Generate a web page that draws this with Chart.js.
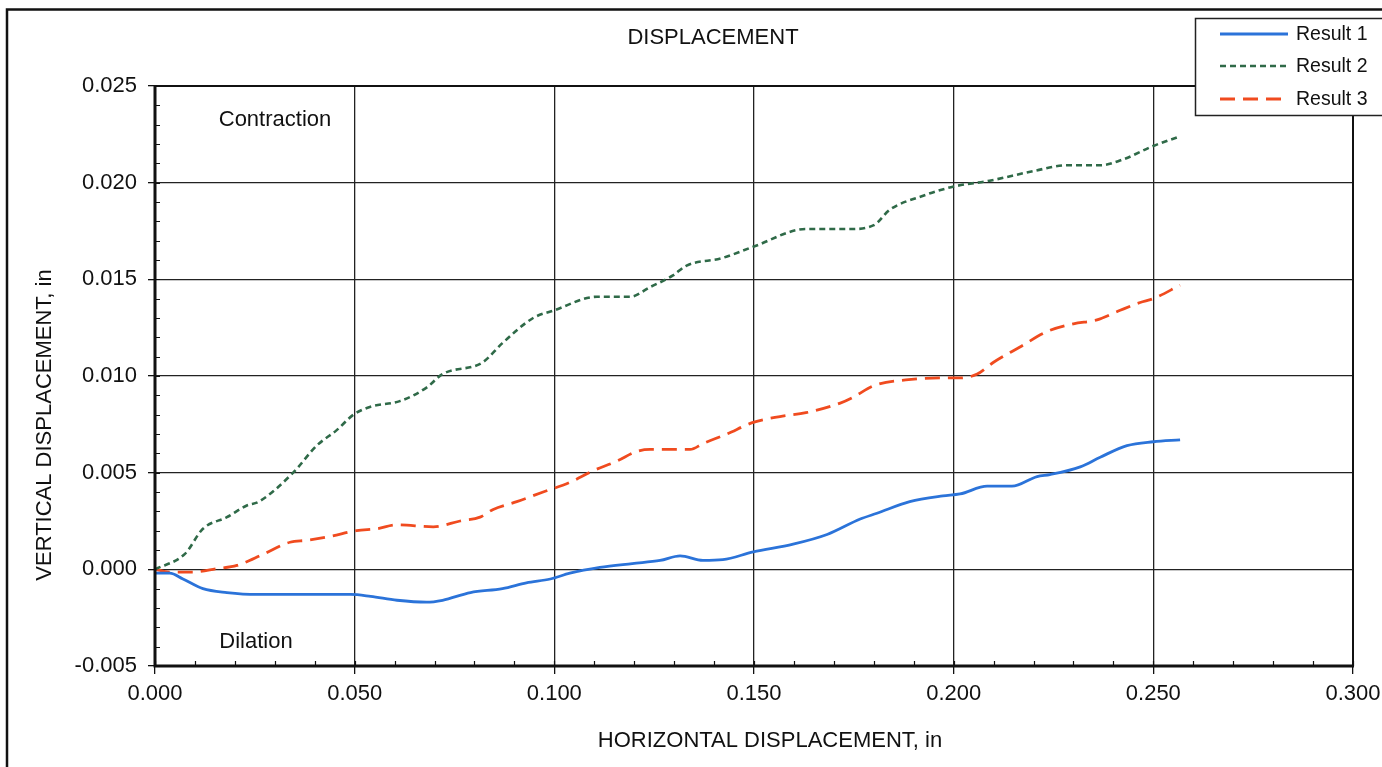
<!DOCTYPE html>
<html>
<head>
<meta charset="utf-8">
<script src="https://cdn.jsdelivr.net/npm/chart.js@4.4.0/dist/chart.umd.min.js"></script>
<style>
  body { margin: 0; background: #fff; }
  canvas { display: block; }
</style>
</head>
<body>
<canvas id="disp" width="1382" height="767"></canvas>
<script>
// values (inches)
const x1 = [0, 0.0037, 0.007, 0.012, 0.018, 0.0255, 0.0346, 0.043, 0.049, 0.054, 0.0606, 0.068, 0.072, 0.079, 0.087, 0.093, 0.099, 0.1039, 0.1114, 0.1195, 0.1265, 0.1315, 0.1372, 0.1422, 0.1498, 0.1598, 0.1683, 0.1766, 0.1808, 0.189, 0.1973, 0.2016, 0.2084, 0.2146, 0.2209, 0.2241, 0.2317, 0.2367, 0.2434, 0.25, 0.2567];
const y1 = [-0.0002, -0.0002, -0.0005, -0.0010, -0.0012, -0.0013, -0.0013, -0.0013, -0.0013, -0.0014, -0.0016, -0.0017, -0.0016, -0.0012, -0.0010, -0.0007, -0.0005, -0.0002, 0.0001, 0.0003, 0.00046, 0.0007, 0.00046, 0.0005, 0.0009, 0.0013, 0.0018, 0.0026, 0.0029, 0.0035, 0.0038, 0.0039, 0.0043, 0.0043, 0.0048, 0.0049, 0.0053, 0.0058, 0.0064, 0.0066, 0.0067];

const x2 = [0, 0.0075, 0.012, 0.018, 0.023, 0.026, 0.0346, 0.0405, 0.0455, 0.0497, 0.0538, 0.0613, 0.068, 0.072, 0.082, 0.087, 0.0947, 0.100, 0.1107, 0.119, 0.124, 0.1297, 0.133, 0.142, 0.150, 0.163, 0.174, 0.180, 0.184, 0.192, 0.200, 0.209, 0.220, 0.2284, 0.2367, 0.2424, 0.250, 0.2567];
const y2 = [0, 0.0008, 0.0021, 0.0027, 0.0033, 0.0035, 0.0050, 0.0064, 0.0072, 0.0080, 0.0084, 0.0087, 0.0094, 0.0101, 0.0107, 0.0117, 0.0130, 0.0134, 0.0141, 0.0141, 0.0146, 0.0152, 0.0157, 0.0161, 0.0167, 0.0176, 0.0176, 0.0178, 0.0186, 0.0193, 0.0198, 0.0201, 0.0206, 0.0209, 0.0209, 0.0212, 0.0219, 0.0224];

const x3 = [0, 0.0037, 0.0095, 0.0155, 0.0205, 0.027, 0.0338, 0.038, 0.0438, 0.0505, 0.0556, 0.0606, 0.0697, 0.0764, 0.0814, 0.0847, 0.0906, 0.0972, 0.1039, 0.1097, 0.1157, 0.1207, 0.124, 0.1307, 0.134, 0.1372, 0.1432, 0.1498, 0.1565, 0.163, 0.1716, 0.1748, 0.180, 0.188, 0.1966, 0.2016, 0.2059, 0.2099, 0.2166, 0.2234, 0.230, 0.2359, 0.2417, 0.2467, 0.250, 0.2567];
const y3 = [0, -0.00014, -0.00014, 0.00003, 0.0002, 0.00077, 0.0014, 0.0015, 0.0017, 0.0020, 0.0021, 0.0023, 0.0022, 0.0025, 0.0027, 0.0031, 0.0035, 0.0040, 0.0045, 0.0051, 0.0056, 0.0061, 0.0062, 0.0062, 0.0062, 0.0065, 0.0070, 0.0076, 0.0079, 0.0081, 0.0086, 0.0089, 0.0095, 0.0098, 0.0099, 0.0099, 0.0101, 0.0107, 0.0115, 0.0123, 0.0127, 0.0129, 0.0134, 0.0138, 0.0140, 0.0147];

const seriesNames = ['Result 1', 'Result 2', 'Result 3'];
const xTicks = [0, 0.05, 0.1, 0.15, 0.2, 0.25, 0.3];
const yTicks = [-0.005, 0, 0.005, 0.01, 0.015, 0.02, 0.025];

const FONT = '"Liberation Sans", Arial, sans-serif';
const pts = (xs, ys) => xs.map((x, i) => ({ x: x, y: ys[i] }));

// frame, minor ticks, labels, legend
const decor = {
  id: 'decor',
  beforeDatasetsDraw(chart) {
    const { ctx, chartArea: a, scales: { x, y } } = chart;
    ctx.save();
    ctx.strokeStyle = '#111';
    ctx.lineWidth = 1.2;
    ctx.beginPath();
    for (let v = -0.005; v <= 0.0251; v += 0.001) {
      const py = Math.round(y.getPixelForValue(v)) + 0.5;
      ctx.moveTo(a.left, py); ctx.lineTo(a.left + 5, py);
    }
    for (let v = 0; v <= 0.3001; v += 0.01) {
      const px = Math.round(x.getPixelForValue(v)) + 0.5;
      ctx.moveTo(px, a.bottom); ctx.lineTo(px, a.bottom - 5);
    }
    ctx.stroke();
    ctx.restore();
  },
  afterDraw(chart) {
    const { ctx, chartArea: a } = chart;
    ctx.save();
    // plot frame
    ctx.strokeStyle = '#111';
    ctx.lineWidth = 2;
    ctx.beginPath();
    ctx.moveTo(a.left, a.top); ctx.lineTo(a.right, a.top); ctx.lineTo(a.right, a.bottom);
    ctx.stroke();
    ctx.lineWidth = 3;
    ctx.beginPath();
    ctx.moveTo(a.left, a.top - 1); ctx.lineTo(a.left, a.bottom); ctx.lineTo(a.right + 1, a.bottom);
    ctx.stroke();
    // outer border
    ctx.lineWidth = 2.5;
    ctx.strokeRect(7, 9.5, 1500, 900);

    ctx.fillStyle = '#111';
    ctx.textAlign = 'center';
    ctx.textBaseline = 'middle';
    ctx.font = '22px ' + FONT;
    ctx.fillText('DISPLACEMENT', 713, 38);
    ctx.fillText('HORIZONTAL DISPLACEMENT, in', 770, 741);
    ctx.fillText('Contraction', 275, 120);
    ctx.fillText('Dilation', 256, 642);
    ctx.save();
    ctx.translate(45, 425);
    ctx.rotate(-Math.PI / 2);
    ctx.fillText('VERTICAL DISPLACEMENT, in', 0, 0);
    ctx.restore();

    // legend box
    ctx.fillStyle = '#fff';
    ctx.fillRect(1195, 18, 200, 97);
    ctx.strokeStyle = '#222';
    ctx.lineWidth = 1.5;
    ctx.strokeRect(1195.5, 18.5, 200, 97);
    const rows = [34, 66, 99];
    chart.data.datasets.forEach((ds, i) => {
      ctx.strokeStyle = ds.borderColor;
      ctx.lineWidth = ds.borderWidth;
      ctx.setLineDash(ds.borderDash || []);
      ctx.beginPath();
      ctx.moveTo(1220, rows[i]); ctx.lineTo(1288, rows[i]);
      ctx.stroke();
      ctx.setLineDash([]);
      ctx.fillStyle = '#111';
      ctx.textAlign = 'left';
      ctx.font = '19.5px ' + FONT;
      ctx.fillText(ds.label, 1296, rows[i] + 1);
    });
    ctx.restore();
  }
};

new Chart(document.getElementById('disp'), {
  type: 'scatter',
  data: {
    datasets: [
      { label: seriesNames[0], data: pts(x1, y1), borderColor: '#2b73d9', borderWidth: 2.8 },
      { label: seriesNames[1], data: pts(x2, y2), borderColor: '#2f6a48', borderWidth: 2.6, borderDash: [6, 4] },
      { label: seriesNames[2], data: pts(x3, y3), borderColor: '#f04b1f', borderWidth: 2.8, borderDash: [15, 8] }
    ]
  },
  options: {
    responsive: false,
    animation: false,
    showLine: true,
    elements: {
      point: { radius: 0 },
      line: { cubicInterpolationMode: 'monotone', fill: false }
    },
    layout: { padding: { left: 0, top: 86, right: 29, bottom: 0 } },
    plugins: { legend: { display: false }, title: { display: false }, tooltip: { enabled: false } },
    scales: {
      x: {
        type: 'linear', min: 0, max: 0.3,
        afterBuildTicks: s => { s.ticks = xTicks.map(v => ({ value: v })); },
        afterFit: s => { s.height = 101; s.paddingLeft = 0; s.paddingRight = 0; },
        grid: { color: '#222', lineWidth: 1.3, tickLength: 8, tickColor: '#111' },
        border: { display: false },
        ticks: { color: '#111', padding: 7, font: { family: FONT, size: 22 }, callback: v => v.toFixed(3), maxRotation: 0 }
      },
      y: {
        type: 'linear', min: -0.005, max: 0.025,
        afterBuildTicks: s => { s.ticks = yTicks.map(v => ({ value: v })); },
        afterFit: s => { s.width = 155; s.paddingTop = 0; s.paddingBottom = 0; },
        grid: { color: '#222', lineWidth: 1.3, tickLength: 7, tickColor: '#111' },
        border: { display: false },
        ticks: { color: '#111', padding: 11, font: { family: FONT, size: 22 }, callback: v => v.toFixed(3) }
      }
    }
  },
  plugins: [decor]
});
</script>
</body>
</html>
